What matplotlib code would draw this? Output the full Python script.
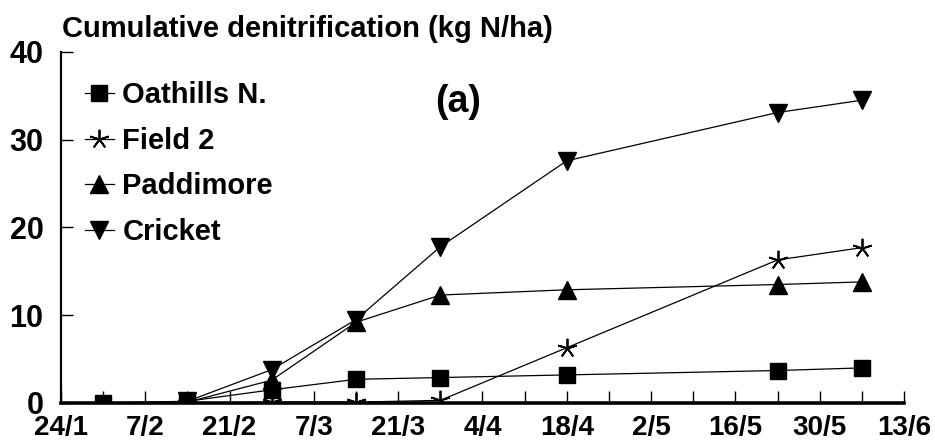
import matplotlib
matplotlib.use("Agg")
import matplotlib.pyplot as plt
from matplotlib.ticker import MultipleLocator

# sampling days (days since 24/1)
days = [7, 21, 35, 49, 63, 84, 119, 133]
oathills = [0.0, 0.2, 1.5, 2.7, 2.9, 3.2, 3.7, 4.0]
field2 = [0.0, 0.0, 0.1, 0.1, 0.3, 6.3, 16.3, 17.7]
paddimore = [0.0, 0.1, 2.6, 9.2, 12.3, 12.9, 13.5, 13.8]
cricket = [0.0, 0.2, 3.8, 9.5, 17.8, 27.6, 33.1, 34.5]

tick_days = [0, 14, 28, 42, 56, 70, 84, 98, 112, 126, 140]
tick_labels = ["24/1", "7/2", "21/2", "7/3", "21/3", "4/4", "18/4", "2/5", "16/5", "30/5", "13/6"]
y_ticks = [0, 10, 20, 30, 40]

plt.rcParams['font.family'] = ['Liberation Sans', 'DejaVu Sans']
plt.rcParams['font.weight'] = 'bold'

fig = plt.figure(figsize=(9.35, 4.45), dpi=100)
ax = fig.add_axes([0.0652, 0.0944, 0.9016, 0.7888])

lw = 0.9
ax.plot(days[1:], field2[1:], color='black', lw=lw, marker=(5, 2, 0), ms=14, mew=1.3, label='Field 2', zorder=3)
ax.plot(days[1:], paddimore[1:], color='black', lw=lw, marker='^', ms=13, label='Paddimore', zorder=3)
ax.plot(days[1:], cricket[1:], color='black', lw=lw, marker='v', ms=13, label='Cricket', zorder=3)
ax.plot(days, oathills, color='black', lw=lw, marker='s', ms=12, label='Oathills N.', zorder=4)

ax.set_xlim(0, 140)
ax.set_ylim(0, 40)
ax.set_xticks(tick_days)
ax.set_xticklabels(tick_labels)
ax.xaxis.set_minor_locator(MultipleLocator(7))
ax.set_yticks(y_ticks)

for s in ['top', 'right']:
    ax.spines[s].set_visible(False)
ax.spines['left'].set_linewidth(1.6)
ax.spines['bottom'].set_linewidth(2.6)

ax.tick_params(axis='x', which='both', direction='in', length=8.5, width=1, labelsize=20, pad=9)
ax.tick_params(axis='y', which='both', direction='in', length=8.5, width=1, labelsize=22, pad=12.5)
for t in ax.get_xticklabels() + ax.get_yticklabels():
    t.set_fontweight('bold')

fig.text(62 / 935, 1 - 37 / 445, "Cumulative denitrification (kg N/ha)", fontsize=21,
         fontweight='bold', va='baseline', ha='left')
fig.text(458 / 935, 1 - 102 / 445, "(a)", fontsize=27, fontweight='bold', va='center', ha='center')

handles, labels = ax.get_legend_handles_labels()
order = [3, 0, 1, 2]
leg = ax.legend([handles[i] for i in order], [labels[i] for i in order],
                loc='upper left', bbox_to_anchor=(0.028, 0.916), frameon=False, fontsize=21,
                handlelength=1.0, handletextpad=0.3, labelspacing=0.6, borderaxespad=0, borderpad=0)
for t in leg.get_texts():
    t.set_fontweight('bold')

fig.savefig("out.png", dpi=100)
